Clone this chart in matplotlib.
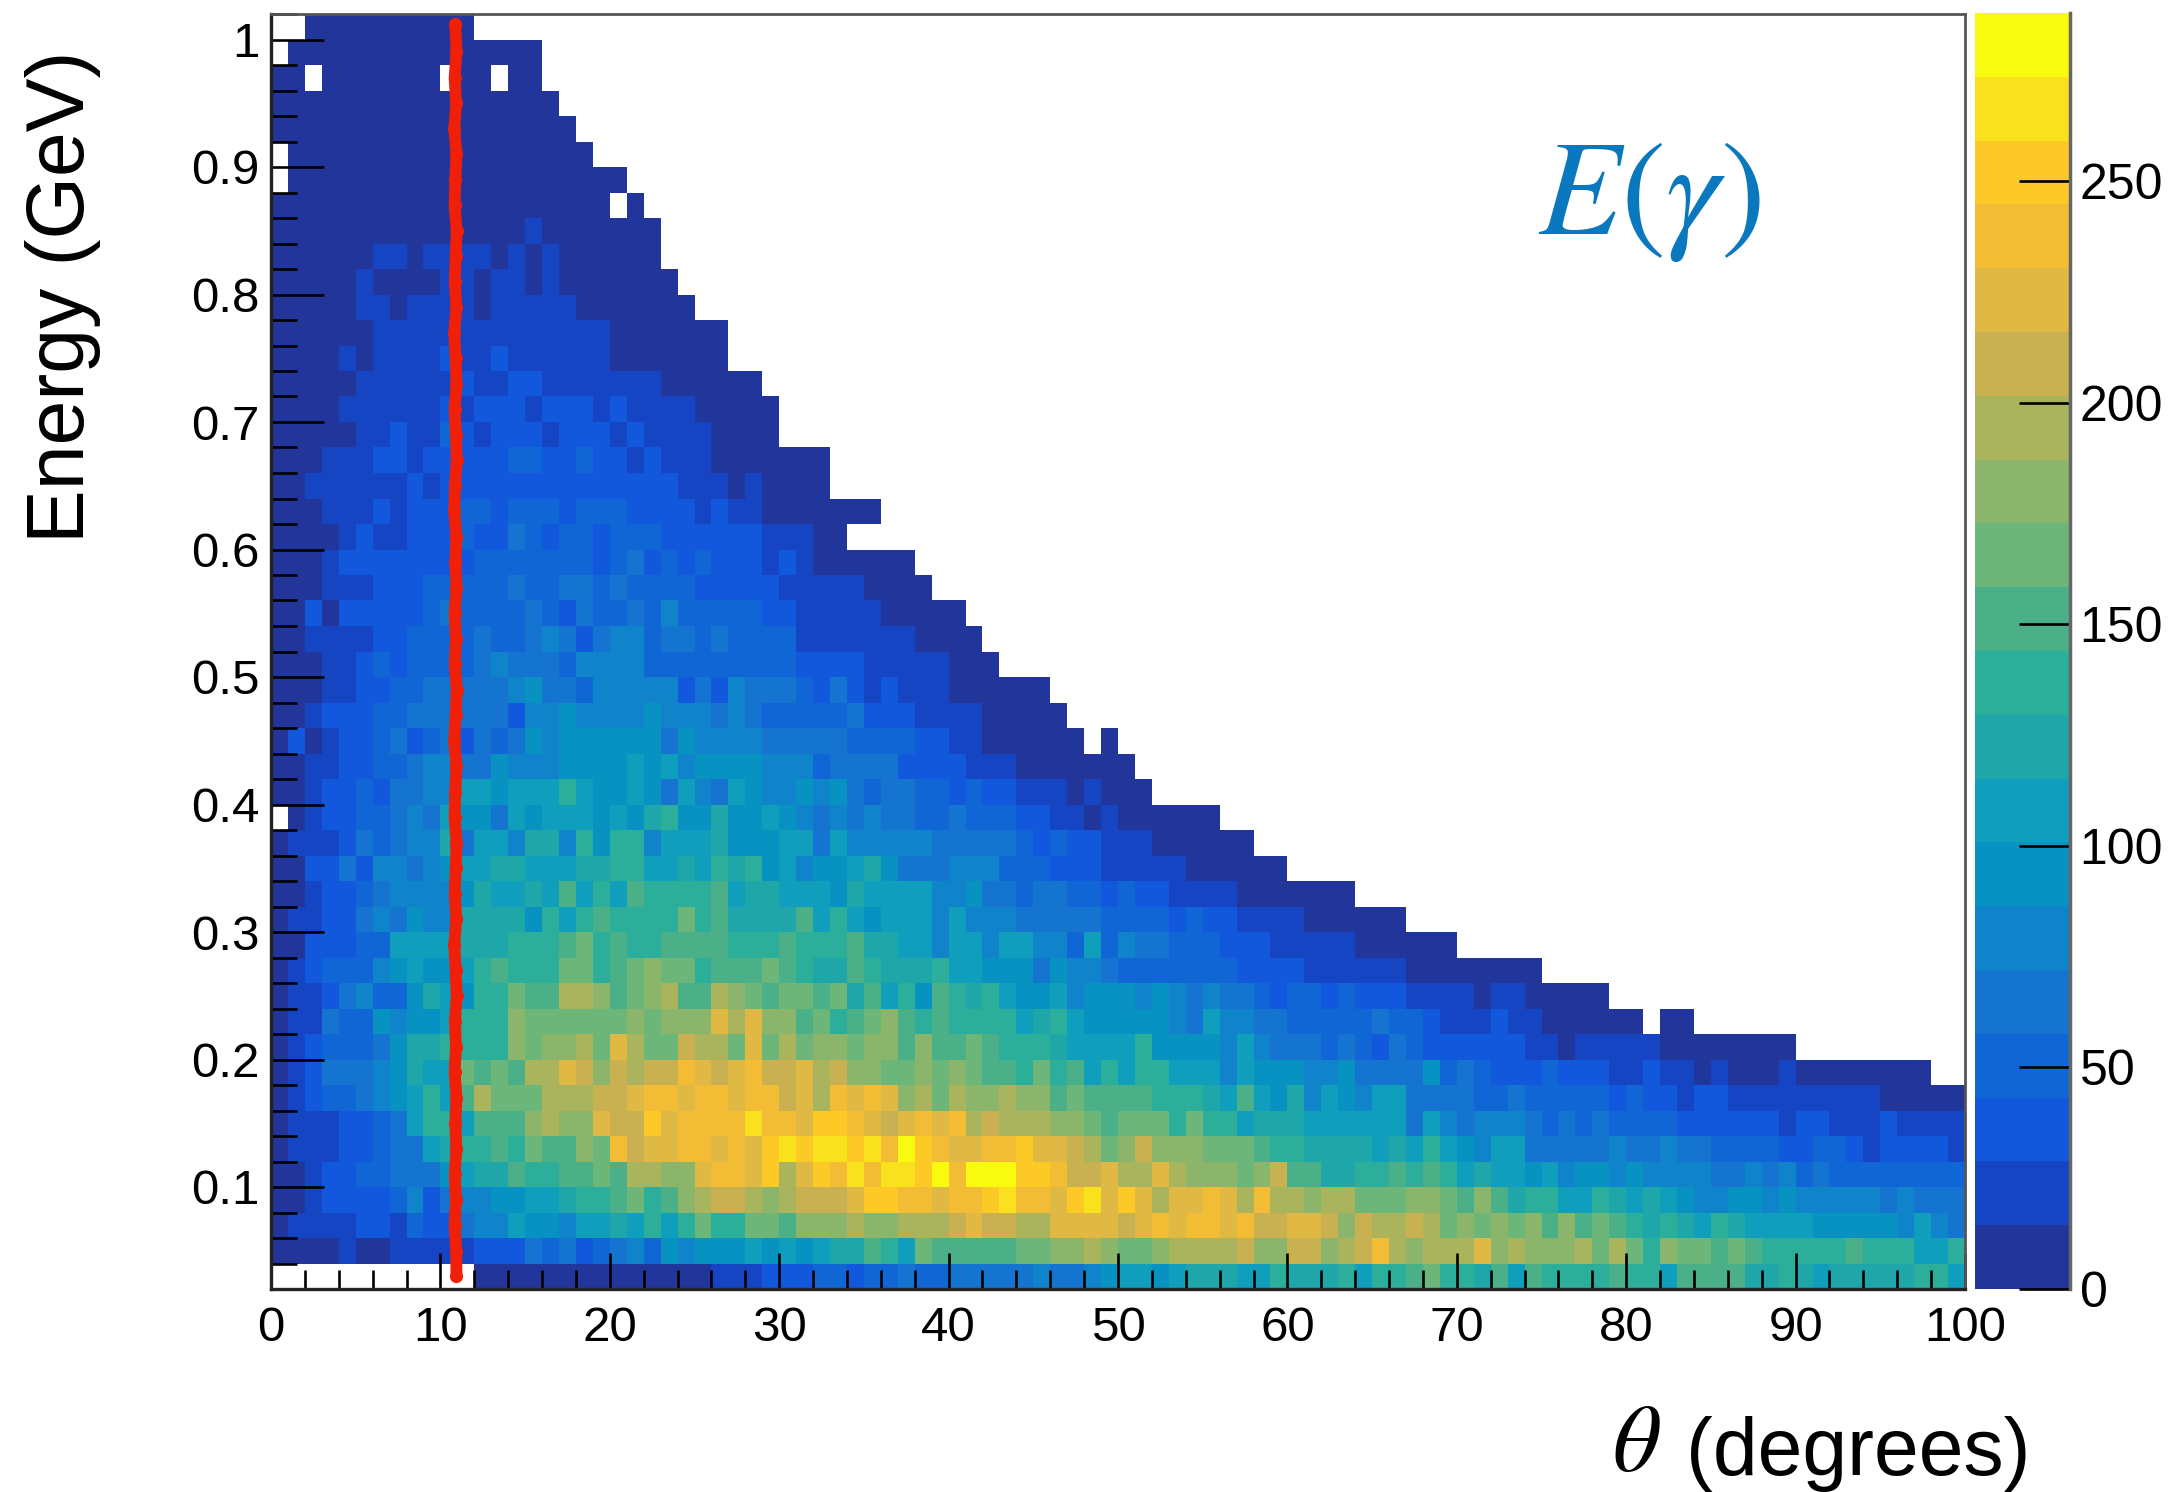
import numpy as np
import matplotlib
matplotlib.use("Agg")
import matplotlib.pyplot as plt
from matplotlib.colors import ListedColormap, BoundaryNorm

plt.rcParams["font.family"] = ["Liberation Sans", "DejaVu Sans"]
plt.rcParams["mathtext.fontset"] = "stix"

W, H = 2182, 1492

# histogram content, one row per energy bin (top to bottom), one char per theta bin
# char = colour band of the palette (0-9 then a-j), "." = empty bin
rows_top = [
    "..00000000 00",
    ".000000000 000000",
    "00.0000000 .00.00",
    "0000000000 0000000",
    "0000000000 00000000",
    ".000000000 000000000",
    ".000000000 0000000000 0",
    "0000000000 0000000000 .0",
    "0000000000 0000010000 000",
    "0000001101 1110101000 000",
    "0000010000 1101101000 0000",
    "0000011011 1101111100 00000",
    "0000001111 1111111111 0000000",
    "0000101111 2112111111 0000000",
    "0000011111 1211221111 111000000",
    "0000111111 2122212221 2111100000",
    "0000011211 3212221222 1211110000",
]
rows_mid = [
    "0001112212 2222332232 2121110000 000",
    "0011111121 2222222222 2222111010 000",
    "0001112122 2332333233 3222212110 000000",
    "0000121122 2322432332 3332222221 1100",
    "0001222222 2233333332 3423232221 21000000",
    "0001112223 3333433443 4333322222 111110000",
    "0020222223 4333343243 3435333332 2111110000 0",
    "0011112233 3343345424 5534434333 3111111100 00",
    "0001123233 3345444355 5533333333 3222211111 000",
    "0001122334 4444564435 5555242544 4324212111 000000",
    "0012223344 4444255655 5565554543 3333422211 1100000",
    "0201223423 4243465666 6664655554 4444333322 11000000.0",
    "0011223345 5446555666 6767566665 5534444222 2111000000 0",
    "0012232445 5776777976 6764754765 5656434433 2322111010 00",
    ".012233454 7664767776 7689668667 6545454433 4333221101 000000",
    "0111243455 8477588596 9957778666 7747555554 4444323221 11000000",
]
rows_low = [
    "0022425545 6778877788 9977879896 7566786444 5553332221 1111000000",
    "0012234555 5687787a79 7a9999a788 7776877775 5644344332 3221111000 0000",
    "0112245465 588886979a 9999b9a888 8a79767775 7555444443 3332322111 1000000",
    "0022233777 7888999ab9 a99aaaa999 a999a88775 7757755373 5443332221 1111000000",
    "0123335676 679a999bb9 abcbb9aaab a988a98889 7766646554 3333333222 2111111000 00000",
    "0112453368 7699baaddc abcdaadcba bbab8a796a 9897667566 6565454432 3323222111 101100000",
    "0114336566 7999cbbbbb bcbcccfdfc cab9abca9a 9999789766 6665475544 3333343321 1121100000 0.00",
    "0123334688 9999cbccdb fdbbeddbfb dbccbccaca aba9998777 7966665754 4434324322 2222110111 1100000000",
    "0124445687 7babaddfec edeegfefge efdeccbbcb cbaa9b9a79 7997775766 6556444463 4322232221 1211010001 00000000",
    "0123345679 7adbbbddde efggfggfgg efdgfgfcdb dccdccabaa aa99987a76 8576577444 4334333332 3221221111 1111100000",
    "0111223479 97aaacdccf eehfggggig gfhhgfefgf gdedddccba bbb9b99788 8777777475 4555434343 3332222221 2211121111",
    "0111223447 899a9baacb geffggfgfh ihiihigjhg ffgghffedb cecccbbba9 9888878797 6577444445 4454433332 2332122221",
    "0012233444 6788a99aab addccfggfh dfhgigiihj gjjjhhgeef ddfdcccbce aa8899a9a9 7877675665 6555544545 3433333333",
    "0012222352 4556677899 ab9acdeedc deeefhhggf gghiggfhif hfdffgfdgd dcddbbbccb aca8997798 7876556656 5555545444",
    "0111122132 2455766577 87979b99bb acccdccddd efeeddffff efgfggfgee ffeceddedb cbcbcacaba 9898798777 7666665754",
    "0000100111 1122243423 4536566676 76788a97ba aaaabbccdc bbcddddecc eecdegdcdd dfcdcccdbd b9cbbaba99 999a999779",
    ".......... ..00000000 0000001112 2233233433 4444454456 7767888779 8889799ab9 98a7a9999a 997aaaa889 8788888997",
]

# colorbar bands, bottom to top
band_colors = [
    "#22359B", "#1545C2", "#1158DC", "#1166D6", "#1474D0",
    "#0F84CB", "#0892C2", "#0F9EBB", "#1EA6A8", "#2BAF9A",
    "#4BB088", "#6BB678", "#8BB56A", "#A9B45C", "#C9B050",
    "#DFB944", "#F2BC35", "#FDC926", "#F9E11E", "#F9FB0E",
]

# red band: theta (deg) vs energy (GeV), top to bottom
red_energy = [1.012, 0.99, 0.97, 0.95, 0.93, 0.91, 0.89, 0.87, 0.85, 0.83,
              0.81, 0.79, 0.77, 0.75, 0.73, 0.71, 0.69, 0.67, 0.65, 0.63,
              0.61, 0.59, 0.57, 0.55, 0.53, 0.51, 0.49, 0.47, 0.45, 0.43,
              0.41, 0.39, 0.37, 0.35, 0.33, 0.31, 0.29, 0.27, 0.25, 0.23,
              0.21, 0.19, 0.17, 0.15, 0.13, 0.11, 0.09, 0.07, 0.05, 0.03]
red_theta = [10.88, 10.95, 10.84, 10.93, 10.82, 10.95, 10.88, 10.84, 10.96, 10.9,
             10.85, 10.94, 10.82, 10.9, 10.95, 10.84, 10.92, 10.96, 10.86, 10.82,
             10.94, 10.88, 10.95, 10.84, 10.92, 10.85, 10.96, 10.9, 10.82, 10.94,
             10.88, 10.84, 10.95, 10.9, 10.85, 10.94, 10.82, 10.9, 10.96, 10.86,
             10.92, 10.84, 10.95, 10.88, 10.94, 10.85, 10.92, 10.84, 10.93, 10.95]

x_ticks = [0, 10, 20, 30, 40, 50, 60, 70, 80, 90, 100]
y_ticks = [0.1, 0.2, 0.3, 0.4, 0.5, 0.6, 0.7, 0.8, 0.9, 1.0]
y_tick_labels = ["0.1", "0.2", "0.3", "0.4", "0.5", "0.6", "0.7", "0.8", "0.9", "1"]
cbar_ticks = [0, 50, 100, 150, 200, 250]


def px(x, y):
    # pixel position in the image to figure fraction
    return x / W, 1 - y / H


# 20 bands, 14.4 counts wide
band_width = 14.4
edges = np.arange(21) * band_width
cmap = ListedColormap(band_colors)
cmap.set_bad((1, 1, 1, 0))
norm = BoundaryNorm(edges, 20)

all_rows = rows_top + rows_mid + rows_low
grid = np.full((50, 100), np.nan)
for i, row in enumerate(all_rows):
    for j, c in enumerate(row.replace(" ", "")):
        if c != ".":
            grid[49 - i, j] = (int(c, 20) + 0.5) * band_width
grid = np.ma.masked_invalid(grid)

x_edges = np.linspace(0, 100, 101)
y_edges = np.linspace(0.02, 1.02, 51)

fig = plt.figure(figsize=(W / 100, H / 100), dpi=100)
ax = fig.add_axes([271 / W, 1 - 1289 / H, (1965 - 271) / W, (1289 - 14) / H])
mesh = ax.pcolormesh(x_edges, y_edges, grid, cmap=cmap, norm=norm, linewidth=0)
ax.plot(red_theta, red_energy, color="#F02008", lw=8.5, marker="o", ms=9.5, mew=0,
        solid_capstyle="butt", zorder=5)

ax.set_xlim(0, 100)
ax.set_ylim(0.02, 1.02)
ax.set_xticks(x_ticks)
ax.set_xticks(np.arange(0, 101, 2), minor=True)
ax.set_yticks(y_ticks)
ax.set_yticklabels(y_tick_labels)
ax.set_yticks(np.arange(0.02, 1.021, 0.02), minor=True)
ax.tick_params(axis="x", which="major", direction="in", length=26, width=1.9, labelsize=35.5, pad=12)
ax.tick_params(axis="x", which="minor", direction="in", length=13.5, width=1.9)
ax.tick_params(axis="y", which="major", direction="in", length=38, width=1.9, labelsize=35.5, pad=8)
ax.tick_params(axis="y", which="minor", direction="in", length=19, width=1.9)
for name in ["top", "right"]:
    ax.spines[name].set_color("#555555")
    ax.spines[name].set_linewidth(2)
for name in ["left", "bottom"]:
    ax.spines[name].set_color("#222222")
    ax.spines[name].set_linewidth(2.4)

# colorbar
cax = fig.add_axes([1975 / W, 1 - 1289 / H, (2070 - 1975) / W, (1289 - 13) / H])
cbar = fig.colorbar(mesh, cax=cax, boundaries=edges, ticks=cbar_ticks, spacing="proportional")
cbar.minorticks_off()
cbar.outline.set_visible(False)
cax.axvline(1, color="#666666", lw=2.5, clip_on=False)
cax.tick_params(direction="in", length=37, width=1.9, labelsize=36, pad=7, right=True)
cax.set_yticklabels([str(t) for t in cbar_ticks])

# axis titles and annotation
x0, y0 = px(84, 543)
fig.text(x0, y0, "Energy (GeV)", rotation=90, fontsize=58, ha="left", va="baseline",
         rotation_mode="anchor")
x0, y0 = px(1686, 1475)
fig.text(x0, y0, "(degrees)", fontsize=58, ha="left", va="baseline")
x0, y0 = px(1612, 1471)
fig.text(x0, y0, r"$\theta$", fontsize=68, ha="left", va="baseline")
x0, y0 = px(1538, 234)
fig.text(x0, y0, r"$E(\gamma)$", fontsize=97, color="#0A78BE", ha="left", va="baseline")

fig.savefig("out.png", dpi=100)
